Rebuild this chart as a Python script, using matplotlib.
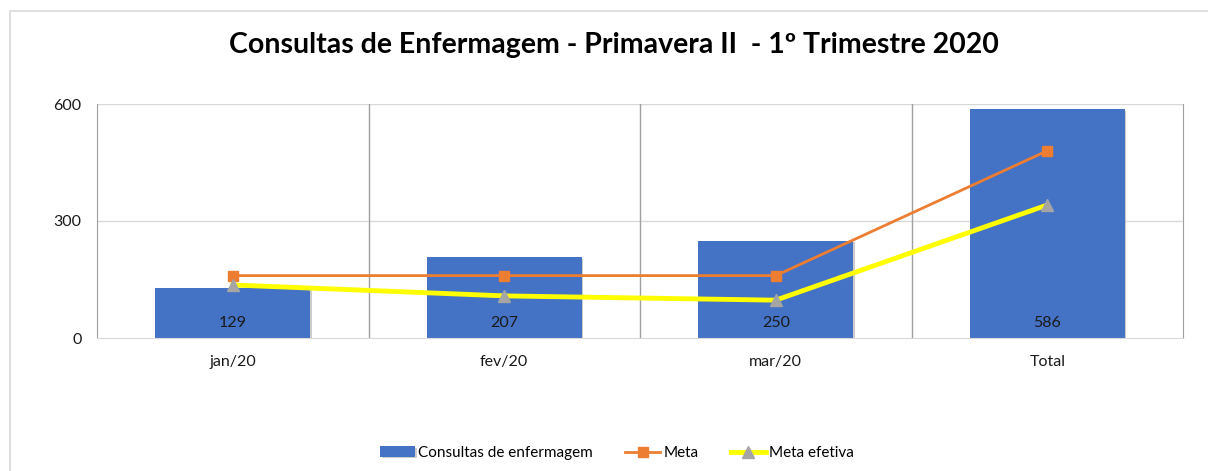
import matplotlib.pyplot as plt
import matplotlib.patheffects as pe
from matplotlib.patches import Rectangle
import numpy as np

plt.rcParams['font.family'] = ['Lato', 'DejaVu Sans']

# dados
meses = ['jan/20', 'fev/20', 'mar/20', 'Total']
consultas = [129, 207, 250, 586]
meta = [160, 160, 160, 480]
meta_efetiva = [136, 108, 97, 341]

W, H = 1208, 471
fig = plt.figure(figsize=(W / 100, H / 100), dpi=100)

# borda externa do gráfico (cortada à direita e embaixo)
fig.patches.append(Rectangle((10 / W, -0.1), 1.2, (H - 11) / H + 0.1, transform=fig.transFigure,
                             fill=False, edgecolor='#d9d9d9', linewidth=1.2))

ax = fig.add_axes([97 / W, (H - 338) / H, (1183 - 97) / W, (338 - 104) / H])
x = np.arange(len(meses))

ax.bar(x, consultas, width=0.57, color='#4472C4', zorder=2, label='Consultas de enfermagem',
       path_effects=[pe.SimplePatchShadow(offset=(1, -1), shadow_rgbFace='#9a9a9a', alpha=0.5), pe.Normal()])
ax.plot(x, meta, color='#ED7D31', linewidth=2, marker='s', markersize=6.5, zorder=3, label='Meta')
ax.plot(x, meta_efetiva, color='#FFFF00', linewidth=3.5, marker='^', markersize=9,
        markerfacecolor='#A5A5A5', markeredgecolor='#A5A5A5', zorder=4, label='Meta efetiva')

# rótulos nas barras
for xi, v in zip(x, consultas):
    ax.annotate(str(v), (xi, 0), xytext=(0, 11), textcoords='offset points',
                ha='center', va='center', fontsize=11.5, color='#1a1a1a', zorder=5)

ax.set_xlim(-0.5, len(meses) - 0.5)
ax.set_ylim(0, 600)
ax.set_yticks([0, 300, 600])
ax.set_xticks(x)
ax.set_xticklabels(meses)
ax.tick_params(axis='both', length=0, labelsize=11.5, colors='#1a1a1a')
ax.tick_params(axis='y', pad=11)
ax.tick_params(axis='x', pad=12)

# grades
for yv in [300, 600]:
    ax.axhline(yv, color='#d9d9d9', linewidth=1, zorder=1)
for xv in [0.5, 1.5, 2.5]:
    ax.axvline(xv, color='#a0a0a0', linewidth=1, zorder=1)

ax.spines['top'].set_visible(False)
ax.spines['left'].set_color('#a0a0a0')
ax.spines['right'].set_color('#a0a0a0')
ax.spines['bottom'].set_color('#d9d9d9')

fig.text(614 / W, (H - 45) / H, 'Consultas de Enfermagem - Primavera II  - 1º Trimestre 2020',
         ha='center', va='center', fontsize=20.5, fontweight='bold')

handles, labels = ax.get_legend_handles_labels()
ordem = [labels.index('Consultas de enfermagem'), labels.index('Meta'), labels.index('Meta efetiva')]
fig.legend([handles[i] for i in ordem], [labels[i] for i in ordem],
           loc='center', bbox_to_anchor=(617 / W, (H - 453) / H), ncol=3, frameon=False,
           fontsize=11, handlelength=2.3, columnspacing=2.1, handletextpad=0.2)

fig.savefig('out.png', dpi=100)
